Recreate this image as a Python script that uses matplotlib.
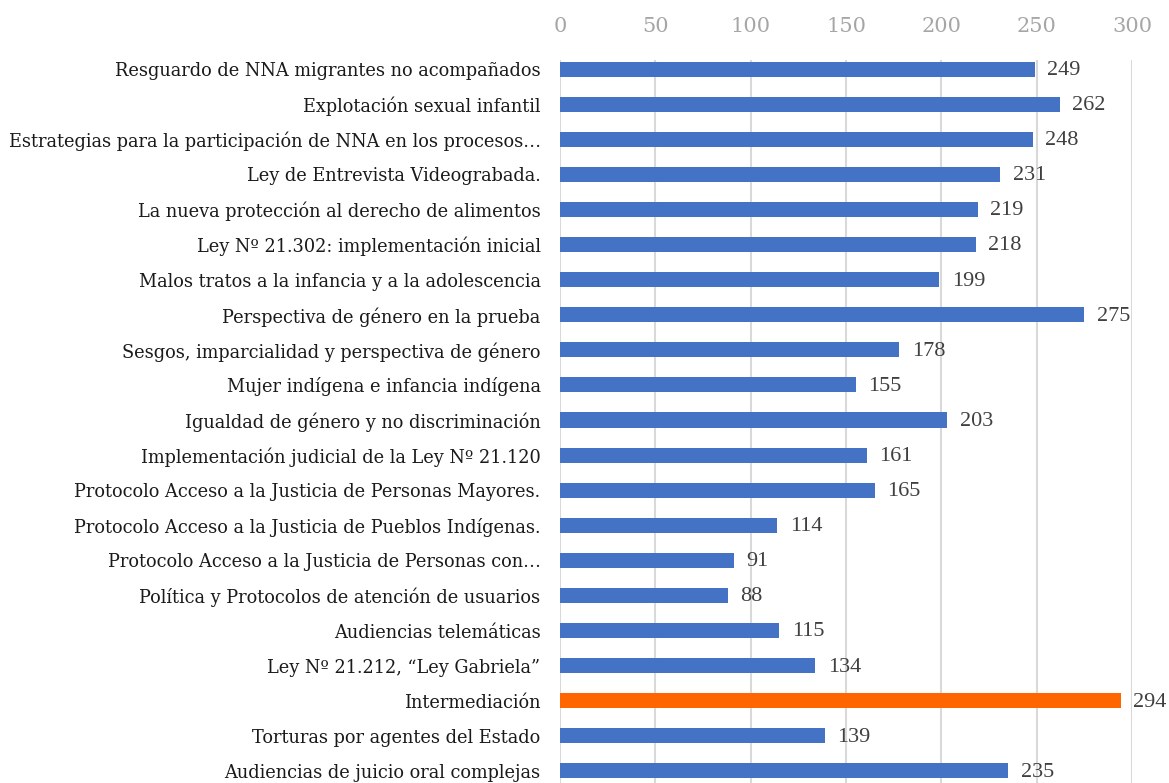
import matplotlib
matplotlib.use("Agg")
import matplotlib.pyplot as plt

# courses, top to bottom as shown in the chart
labels = [
    "Resguardo de NNA migrantes no acompañados",
    "Explotación sexual infantil",
    "Estrategias para la participación de NNA en los procesos…",
    "Ley de Entrevista Videograbada.",
    "La nueva protección al derecho de alimentos",
    "Ley Nº 21.302: implementación inicial",
    "Malos tratos a la infancia y a la adolescencia",
    "Perspectiva de género en la prueba",
    "Sesgos, imparcialidad y perspectiva de género",
    "Mujer indígena e infancia indígena",
    "Igualdad de género y no discriminación",
    "Implementación judicial de la Ley Nº 21.120",
    "Protocolo Acceso a la Justicia de Personas Mayores.",
    "Protocolo Acceso a la Justicia de Pueblos Indígenas.",
    "Protocolo Acceso a la Justicia de Personas con…",
    "Política y Protocolos de atención de usuarios",
    "Audiencias telemáticas",
    "Ley Nº 21.212, “Ley Gabriela”",
    "Intermediación",
    "Torturas por agentes del Estado",
    "Audiencias de juicio oral complejas",
]
values = [249, 262, 248, 231, 219, 218, 199, 275, 178, 155, 203,
          161, 165, 114, 91, 88, 115, 134, 294, 139, 235]
highlight = "Intermediación"
xticks = [0, 50, 100, 150, 200, 250, 300]

BLUE = "#4472C4"
ORANGE = "#FF6600"
W, H = 1169, 783

fig = plt.figure(figsize=(W / 100, H / 100), dpi=100)
# plot area: x from 560 to 1132 px, top at 60 px, runs off the bottom edge
left, right, top, bottom = 560, 1132, 60, 788.5
ax = fig.add_axes([left / W, 1 - bottom / H, (right - left) / W, (bottom - top) / H])

ypos = list(range(len(labels)))
colors = [ORANGE if l == highlight else BLUE for l in labels]
ax.barh(ypos, values, height=0.43, color=colors, zorder=3)

for y, v in zip(ypos, values):
    ax.annotate(str(v), (v, y), xytext=(9, -1), textcoords="offset points",
                va="center", ha="left", fontsize=16, color="#404040",
                family="Liberation Serif", zorder=4)

ax.set_xlim(0, 300)
ax.set_ylim(len(labels) - 0.5, -0.26)
ax.set_xticks(xticks)
ax.xaxis.tick_top()
ax.tick_params(axis="x", length=0, pad=17, labelsize=15, labelcolor="#A6A6A6")
for t in ax.get_xticklabels():
    t.set_family("DejaVu Serif")
ax.set_yticks(ypos)
ax.set_yticklabels(labels, fontsize=12.8, color="#1a1a1a", family="DejaVu Serif")
ax.tick_params(axis="y", length=0, pad=14)
ax.grid(axis="x", color="#D9D9D9", lw=1.5, zorder=0)
ax.grid(axis="y", visible=False)
for s in ax.spines.values():
    s.set_visible(False)

fig.savefig("out.png", dpi=100)
